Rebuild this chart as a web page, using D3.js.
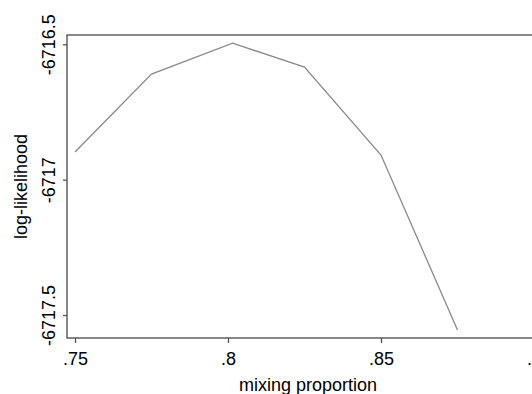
<!DOCTYPE html>
<html><head><meta charset="utf-8">
<script src="https://cdn.jsdelivr.net/npm/d3@7"></script>
<style>
body{margin:0;background:#fff;}
text{font-family:"Liberation Sans",Arial,sans-serif;fill:#000;}
</style></head>
<body><svg id="c" width="532" height="394"></svg>
<script>
const mixing = [0.75, 0.775, 0.8015, 0.825, 0.85, 0.875];
const loglik = [-6716.898, -6716.610, -6716.496, -6716.584, -6716.909, -6717.555];
const xTicks = [0.75, 0.8, 0.85, 0.9];
const xTickLabels = [".75", ".8", ".85", ".9"];
const yTicks = [-6716.5, -6717, -6717.5];
const yTickLabels = ["-6716.5", "-6717", "-6717.5"];

const svg = d3.select("#c");
const pL = 67, pT = 35, pB = 338, pR = 549;
const x = d3.scaleLinear().domain([0.75, 0.9]).range([75, 534]);
const y = d3.scaleLinear().domain([-6717.5, -6716.5]).range([315, 44.3]);

// frame
svg.append("rect").attr("x", pL).attr("y", pT).attr("width", pR-pL).attr("height", pB-pT)
  .attr("fill","none").attr("stroke","#555").attr("stroke-width",1.4);

// line
svg.append("path").datum(mixing.map((m,i)=>[m, loglik[i]]))
  .attr("fill","none").attr("stroke","#8a8a8a").attr("stroke-width",1.3)
  .attr("d", d3.line().x(d=>x(d[0])).y(d=>y(d[1])));

// x axis
const xa = svg.append("g").attr("transform",`translate(0,${pB})`)
  .call(d3.axisBottom(x).tickValues(xTicks).tickFormat((d,i)=>xTickLabels[i]).tickSize(5).tickPadding(9));
xa.select(".domain").remove();
xa.selectAll("line").attr("stroke","#555").attr("stroke-width",1.3);
xa.selectAll("text").attr("font-size",18).attr("font-family","Liberation Sans, Arial, sans-serif").attr("fill","#000");

// y axis
const ya = svg.append("g").attr("transform",`translate(${pL},0)`)
  .call(d3.axisLeft(y).tickValues(yTicks).tickFormat((d,i)=>yTickLabels[i]).tickSize(4));
ya.select(".domain").remove();
ya.selectAll("line").attr("stroke","#555").attr("stroke-width",1.3);
ya.selectAll("text").attr("font-size",18).attr("font-family","Liberation Sans, Arial, sans-serif").attr("fill","#000")
  .attr("x",0).attr("dy",0).attr("text-anchor","middle")
  .attr("transform","translate(-12,0) rotate(-90)");

// titles
svg.append("text").attr("x",(pL+pR)/2).attr("y",391).attr("text-anchor","middle")
  .attr("font-size",18).text("mixing proportion");
svg.append("text").attr("transform",`translate(27,${(pT+pB)/2}) rotate(-90)`).attr("text-anchor","middle")
  .attr("font-size",18).text("log-likelihood");
</script></body></html>
